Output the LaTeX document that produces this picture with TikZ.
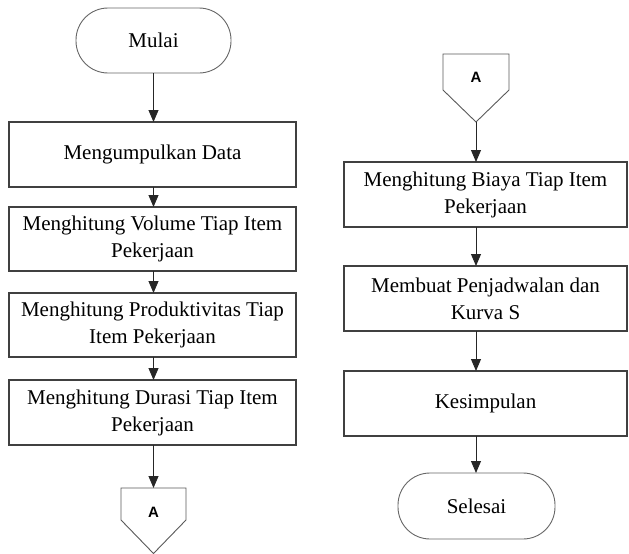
\documentclass[tikz,border=0pt]{standalone}
\usepackage{fontspec}
\setmainfont{Liberation Serif}
\newfontfamily\labelfont{Liberation Sans}
\usetikzlibrary{arrows.meta}
\begin{document}
\begin{tikzpicture}[x=1pt,y=-1pt,
  every node/.style={inner sep=0pt,outer sep=0pt},
  procbox/.style={draw=black!75,line width=1.1pt,rectangle,align=center,
    font=\fontsize{21}{27}\selectfont},
  termbox/.style={draw=black!60,line width=0.9pt,rectangle,rounded corners=32pt,
    align=center,font=\fontsize{21}{27}\selectfont},
  offpage/.style={draw=black!65,line width=0.9pt},
  alabel/.style={font=\labelfont\bfseries\fontsize{15}{17}\selectfont},
  arr/.style={draw=black!85,line width=0.9pt,-{Triangle[width=10pt,length=12pt]}}]
\useasboundingbox (0,0) rectangle (629,554);
% left column
\node[termbox,minimum width=155pt,minimum height=65pt] (mulai) at (153.5,40.5) {Mulai};
\node[procbox,minimum width=287pt,minimum height=65pt] (b1) at (152.5,154.5) {Mengumpulkan Data};
\node[procbox,minimum width=287pt,minimum height=64pt] (b2) at (152.5,239) {Menghitung Volume Tiap Item\\Pekerjaan};
\node[procbox,minimum width=287pt,minimum height=64pt] (b3) at (152.5,325) {Menghitung Produktivitas Tiap\\Item Pekerjaan};
\node[procbox,minimum width=287pt,minimum height=65pt] (b4) at (152.5,412.5) {Menghitung Durasi Tiap Item\\Pekerjaan};
\coordinate (aLtop) at (153.5,488);
\draw[offpage] (121,488) -- (186,488) -- (186,520) -- (153.5,553.5) -- (121,520) -- cycle;
\node[alabel] (aL) at (153.5,512) {A};
% right column
\coordinate (aRbot) at (476,122);
\draw[offpage] (443,54) -- (509,54) -- (509,90) -- (476,122) -- (443,90) -- cycle;
\node[alabel] (aR) at (476,77) {A};
\node[procbox,minimum width=283pt,minimum height=65pt] (b5) at (485.5,194.5) {Menghitung Biaya Tiap Item\\Pekerjaan};
\node[procbox,minimum width=283pt,minimum height=65pt] (b6) at (485.5,298.5) {Membuat Penjadwalan dan\\Kurva S};
\node[procbox,minimum width=283pt,minimum height=65pt] (b7) at (485.5,403.5) {Kesimpulan};
\node[termbox,minimum width=157pt,minimum height=66pt] (selesai) at (476.5,506) {Selesai};
% connectors
\draw[arr] (mulai.south) -- (b1.north -| mulai.south);
\draw[arr] (b1.south -| mulai.south) -- (b2.north -| mulai.south);
\draw[arr] (b2.south -| mulai.south) -- (b3.north -| mulai.south);
\draw[arr] (b3.south -| mulai.south) -- (b4.north -| mulai.south);
\draw[arr] (b4.south -| aLtop) -- (aLtop);
\draw[arr] (aRbot) -- (b5.north -| aRbot);
\draw[arr] (b5.south -| aRbot) -- (b6.north -| aRbot);
\draw[arr] (b6.south -| aRbot) -- (b7.north -| aRbot);
\draw[arr] (b7.south -| aRbot) -- (selesai.north -| aRbot);
\end{tikzpicture}
\end{document}
